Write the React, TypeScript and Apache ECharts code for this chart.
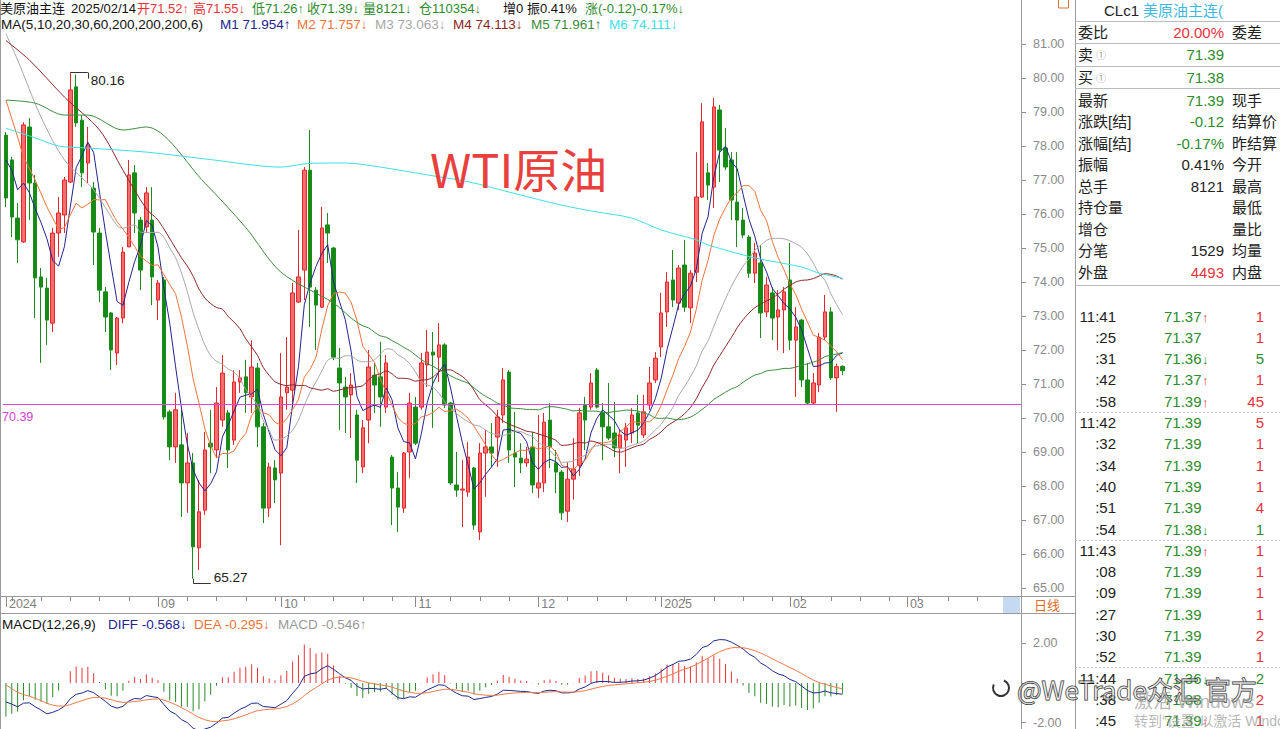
import React, { useEffect, useRef } from "react";
import * as echarts from "echarts";

// ---------- candle data ----------
const opens = [
  78.32, 77.59, 75.88, 75.18, 78.56, 76.91, 74.15, 73.82, 72.79, 75.44,
  75.97, 76.94, 79.74, 78.76, 77.5, 76.76, 75.44, 73.71, 73.09, 71.91,
  72.94, 75.03, 77.21, 75.82, 75.62, 75.82, 73.47, 74.06, 70.18, 69.15,
  69.21, 68.09, 68.68, 66.18, 67.29, 69.26, 69.06, 69.94, 70.15, 69.35,
  71.06, 71.21, 70.62, 71.47, 69.74, 67.35, 68.53, 68.38, 70.74, 70.82,
  73.41, 74.35, 77.29, 73.76, 73.26, 75.68, 75.0, 71.47, 70.91, 70.68,
  70.09, 68.56, 69.94, 71.26, 71.21, 70.32, 68.85, 67.94, 67.35, 69.0,
  70.32, 70.32, 71.56, 71.94, 71.79, 72.15, 70.44, 68.03, 67.88, 67.82,
  68.53, 66.65, 68.97, 69.15, 69.44, 70.09, 71.35, 68.97, 68.82, 68.68,
  69.15, 67.94, 68.09, 69.94, 68.68, 68.41, 67.26, 68.2, 68.6, 70.38,
  70.32, 71.41, 70.15, 69.74, 69.56, 69.12, 69.35, 69.56, 70.15, 69.5,
  70.38, 71.12, 72.09, 73.12, 74.06, 73.38, 74.5, 73.24, 74.29, 76.5,
  77.21, 76.79, 79.06, 77.94, 77.59, 76.35, 75.82, 75.32, 74.26, 74.56,
  73.12, 73.68, 72.97, 73.18, 74.06, 72.29, 72.88, 71.12, 70.44, 70.97,
  72.38, 73.12, 71.18, 71.52,
];
const highs = [
  78.41, 77.68, 76.32, 78.7, 78.82, 77.15, 74.41, 74.12, 75.59, 76.5,
  77.09, 80.16, 80.1, 78.91, 78.56, 76.94, 75.59, 73.85, 73.12, 72.97,
  75.03, 77.59, 77.44, 75.91, 76.79, 76.79, 74.06, 74.15, 70.24, 70.74,
  70.24, 69.56, 68.97, 68.18, 69.59, 70.24, 70.91, 71.85, 70.24, 71.41,
  71.41, 71.71, 72.29, 71.62, 69.85, 68.68, 68.76, 71.91, 72.38, 73.97,
  75.53, 77.38, 78.47, 73.85, 76.21, 76.03, 75.03, 72.06, 71.21, 71.32,
  70.24, 69.94, 72.0, 71.62, 72.24, 71.85, 68.91, 68.41, 69.0, 70.74,
  70.62, 71.91, 72.59, 72.53, 72.79, 72.2, 70.47, 69.0, 68.76, 69.29,
  68.56, 69.26, 69.65, 69.85, 70.24, 71.47, 71.41, 70.18, 69.26, 69.15,
  69.59, 70.09, 70.15, 70.44, 69.06, 68.47, 68.7, 69.4, 70.3, 70.62,
  71.32, 71.47, 70.44, 71.03, 70.47, 69.65, 69.85, 70.29, 70.68, 70.68,
  71.5, 71.94, 73.68, 74.29, 74.94, 74.5, 75.24, 74.35, 77.82, 79.26,
  77.5, 79.41, 79.21, 78.53, 77.82, 77.82, 76.18, 75.38, 75.15, 75.09,
  74.15, 73.85, 73.76, 73.85, 75.15, 73.26, 72.92, 71.62, 71.32, 72.5,
  73.62, 73.26, 71.6, 71.55,
];
const lows = [
  76.2, 75.32, 74.56, 75.15, 75.82, 72.94, 71.62, 72.15, 72.53, 74.74,
  75.44, 76.91, 78.56, 76.79, 76.91, 74.5, 73.41, 72.53, 71.41, 71.56,
  72.79, 75.03, 75.44, 73.76, 75.44, 73.32, 72.88, 69.95, 68.76, 68.68,
  67.09, 67.21, 65.27, 65.53, 67.15, 68.38, 68.82, 69.74, 68.53, 69.21,
  70.74, 70.15, 70.15, 69.15, 66.91, 67.09, 67.5, 66.26, 70.24, 70.32,
  73.38, 73.47, 72.68, 72.0, 73.24, 74.56, 71.7, 69.65, 69.56, 69.41,
  68.09, 68.38, 69.26, 70.15, 69.74, 70.15, 66.85, 66.65, 67.21, 68.24,
  69.2, 70.24, 70.91, 69.71, 71.06, 70.29, 68.03, 67.68, 66.79, 67.68,
  66.71, 66.41, 67.68, 68.56, 68.56, 69.85, 68.68, 67.97, 68.38, 68.56,
  67.79, 67.65, 67.82, 68.53, 67.79, 67.0, 66.94, 67.6, 68.3, 69.06,
  70.24, 70.28, 68.76, 69.35, 68.85, 68.38, 68.56, 69.26, 69.26, 69.41,
  70.24, 71.03, 71.79, 72.68, 73.26, 73.18, 73.12, 72.79, 74.0, 76.47,
  76.41, 76.18, 76.94, 77.29, 75.82, 75.03, 75.29, 74.12, 73.97, 72.35,
  72.97, 72.29, 72.0, 71.91, 72.0, 70.62, 70.91, 70.38, 70.38, 70.76,
  72.29, 71.12, 70.18, 71.26,
];
const closes = [
  76.47, 75.91, 75.24, 78.62, 76.91, 74.12, 73.85, 72.88, 75.44, 76.03,
  77.0, 79.65, 78.68, 77.21, 78.03, 75.47, 73.76, 72.97, 72.0, 72.94,
  74.88, 77.15, 76.03, 74.35, 76.62, 74.15, 73.97, 70.03, 69.15, 70.24,
  68.09, 68.68, 66.21, 67.24, 69.06, 69.15, 70.44, 71.32, 69.06, 71.06,
  71.18, 70.74, 71.5, 69.74, 67.35, 68.56, 68.18, 70.62, 70.91, 73.68,
  74.15, 77.29, 73.85, 73.32, 75.59, 75.44, 71.79, 71.03, 70.62, 70.97,
  68.76, 69.71, 71.5, 70.97, 70.62, 71.62, 67.94, 67.38, 68.97, 70.44,
  69.26, 71.62, 71.94, 71.85, 72.15, 70.38, 68.09, 67.88, 67.91, 68.85,
  66.85, 68.97, 69.15, 68.97, 70.03, 71.12, 69.06, 68.85, 68.68, 68.79,
  68.03, 68.09, 69.88, 69.15, 68.41, 67.21, 68.2, 68.5, 70.15, 69.94,
  71.03, 70.32, 69.74, 69.41, 69.12, 69.5, 69.71, 70.09, 69.79, 70.18,
  71.03, 71.76, 73.09, 74.0, 73.47, 74.41, 73.26, 74.26, 76.5, 78.71,
  76.85, 79.15, 77.88, 77.38, 76.41, 75.82, 75.38, 74.26, 74.85, 73.09,
  73.91, 72.94, 73.18, 73.71, 72.29, 72.68, 71.12, 70.44, 71.03, 72.38,
  73.12, 71.18, 71.51, 71.39,
];

// month tick labels: [category index, label]
const monthLabels: [number, string][] = [
  [0, "2024"], [26, "09"], [47, "10"], [70, "11"], [91, "12"], [112, "2025"], [134, "02"], [154, "03"],
];
const slotCount = 174;

const ma5Head: [number, number][] = [[0, 77.59], [1, 77.29], [2, 76.71], [3, 76.91]];
const ma10Head: [number, number][] = [[0, 79.35], [2, 78.26], [3, 77.68], [5, 77.0], [7, 76.21]];
const ma20Head: [number, number][] = [[0, 81.3], [2, 80.53], [6, 78.85], [10, 77.59], [15, 76.71]];
const ma30Head: [number, number][] = [[0, 81.1], [4, 80.53], [10, 79.44], [16, 78.47], [20, 77.29], [24, 76.15], [26, 75.82]];
const ma60Head: [number, number][] = [[0, 79.35], [5, 79.26], [10, 78.91], [14, 78.91], [20, 78.47], [24, 78.56], [34, 76.91], [41, 75.6], [47, 74.29], [56, 73.38]];
const ma200Points: [number, number][] = [
  [0, 78.52], [5, 78.24], [9, 78.0], [14, 77.94], [24, 77.82], [35, 77.6], [47, 77.38], [52, 77.49],
  [58, 77.5], [64, 77.38], [72, 77.15], [79, 76.95], [87, 76.6], [95, 76.26], [101, 76.06], [107, 75.88],
  [112, 75.53], [118, 75.24], [120, 75.09], [128, 74.71], [136, 74.44], [139, 74.26], [143, 74.11],
];
// MACD state before the first visible candle
const macdSeed = [78.55, 79.4, 0.11]; // ema12, ema26, dea

const pinkLevel = 70.39;
const lastPrice = 71.39;
const highMark = [11, 80.16];
const lowMark = [32, 65.27];

const quoteTop: [string, string, string, string][] = [
  ["委比", "20.00%", "#e8323a", "委差"],
  ["卖", "71.39", "#2e8b2e", ""],
  ["买", "71.38", "#2e8b2e", ""],
];
const quoteRows: [string, string, string, string][] = [
  ["最新", "71.39", "#2e8b2e", "现手"],
  ["涨跌[结]", "-0.12", "#2e8b2e", "结算价"],
  ["涨幅[结]", "-0.17%", "#2e8b2e", "昨结算"],
  ["振幅", "0.41%", "#222", "今开"],
  ["总手", "8121", "#222", "最高"],
  ["持仓量", "", "#222", "最低"],
  ["增仓", "", "#222", "量比"],
  ["分笔", "1529", "#222", "均量"],
  ["外盘", "4493", "#e8323a", "内盘"],
];
// time, price, arrow, volume, volume side
const trades: [string, string, string, string, string][] = [
  ["11:41", "71.37", "↑", "1", "r"], [":25", "71.37", "", "1", "r"], [":31", "71.36", "↓", "5", "g"],
  [":42", "71.37", "↑", "1", "r"], [":58", "71.39", "↑", "45", "r"],
  ["11:42", "71.39", "", "5", "r"], [":32", "71.39", "", "1", "r"], [":34", "71.39", "", "1", "r"],
  [":40", "71.39", "", "1", "r"], [":51", "71.39", "", "4", "r"], [":54", "71.38", "↓", "1", "g"],
  ["11:43", "71.39", "↑", "1", "r"], [":08", "71.39", "", "1", "r"], [":09", "71.39", "", "1", "r"],
  [":27", "71.39", "", "1", "r"], [":30", "71.39", "", "2", "r"], [":52", "71.39", "", "1", "r"],
  ["11:44", "71.36", "↓", "2", "g"], [":38", "71.38", "", "2", "r"], [":45", "71.39", "↑", "1", "r"],
];
const groupBreaks = [5, 11, 17];

const LAT = "'Liberation Sans', Arial, 'Noto Sans CJK SC', sans-serif";
const RED = "#e8323a";
const GRN = "#2e8b2e";
const maColors = ["#23238e", "#f0743c", "#a8a8a8", "#8c2626", "#3c8c3c", "#3ee0e6"];

function movingAverage(period: number, head: [number, number][]) {
  const pts: [number, number][] = [...head];
  for (let i = period - 1; i < closes.length; i++) {
    let s = 0;
    for (let k = i - period + 1; k <= i; k++) s += closes[k];
    pts.push([i, +(s / period).toFixed(3)]);
  }
  return pts;
}

function macdSeries() {
  let e12 = macdSeed[0], e26 = macdSeed[1], dea = macdSeed[2];
  const diffs: number[] = [], deas: number[] = [], hist: number[] = [];
  closes.forEach((c) => {
    e12 = (2 * c + 11 * e12) / 13;
    e26 = (2 * c + 25 * e26) / 27;
    const d = e12 - e26;
    dea = (2 * d + 8 * dea) / 10;
    diffs.push(+d.toFixed(3));
    deas.push(+dea.toFixed(3));
    hist.push(+(2 * (d - dea)).toFixed(3));
  });
  return { diffs, deas, hist };
}

function txt(x: number, y: number, text: string, fill: string, size = 12, align = "left", extra: any = {}) {
  return {
    type: "text", x, y, z: 10,
    style: { text, fill, font: `${size}px ${LAT}`, align, textAlign: align, verticalAlign: "middle", textVerticalAlign: "middle", ...extra },
  };
}
function ln(x1: number, y1: number, x2: number, y2: number, stroke = "#9a9a9a", dash?: number[]) {
  return { type: "line", z: 5, shape: { x1, y1, x2, y2 }, style: { stroke, lineWidth: 1, lineDash: dash } };
}

export default function App() {
  const ref = useRef<HTMLDivElement>(null);
  useEffect(() => {
    if (!ref.current) return;
    const chart = echarts.init(ref.current, undefined, { renderer: "svg" });
    const cats = Array.from({ length: slotCount }, (_, i) => String(i));
    const labelMap: Record<number, string> = {};
    monthLabels.forEach(([i, l]) => (labelMap[i] = l));
    const candles = closes.map((c, i) => [opens[i], c, lows[i], highs[i]]);
    const mas = [
      movingAverage(5, ma5Head), movingAverage(10, ma10Head), movingAverage(20, ma20Head),
      movingAverage(30, ma30Head), movingAverage(60, ma60Head), ma200Points,
    ];
    const { diffs, deas, hist } = macdSeries();

    const g: any[] = [];
    // frame lines
    g.push(ln(0.5, 0, 0.5, 729));
    g.push(ln(1021.5, 0, 1021.5, 729));
    g.push(ln(1075.5, 0, 1075.5, 729));
    g.push(ln(0, 596.5, 1075, 596.5));
    g.push(ln(0, 613.5, 1075, 613.5));
    g.push({ type: "rect", z: 4, shape: { x: 1003, y: 597, width: 17, height: 16 }, style: { fill: "#c5daf2" } });
    g.push({ type: "rect", z: 4, shape: { x: 1058.5, y: -1, width: 10, height: 9 }, style: { fill: "none", stroke: "#e07030" } });
    g.push(txt(1034, 605, "日线", "#e06a2a", 13));

    // header line 1
    const h1: [number, string, string][] = [
      [0, "美原油主连", "#111"], [71, "2025/02/14", "#111"], [137, "开71.52↑", RED], [193, "高71.55↓", RED],
      [252, "低71.26↑", GRN], [307, "收71.39↓", GRN], [363, "量8121↓", GRN], [419, "仓110354↓", GRN],
      [503, "增0", "#111"], [527, "振0.41%", "#111"], [585, "涨(-0.12)-0.17%↓", GRN],
    ];
    h1.forEach(([x, t, c]) => g.push(txt(x, 8, t, c, 13)));
    const h2: [number, string, string][] = [
      [1, "MA(5,10,20,30,60,200,200,200,6)", "#111"], [220, "M1 71.954↑", maColors[0]], [297, "M2 71.757↓", maColors[1]],
      [375, "M3 73.063↓", maColors[2]], [453, "M4 74.113↓", maColors[3]], [531, "M5 71.961↑", maColors[4]], [609, "M6 74.111↓", maColors[5]],
    ];
    h2.forEach(([x, t, c]) => g.push(txt(x, 24, t, c, 13.5)));
    // MACD title
    const h3: [number, string, string][] = [
      [2, "MACD(12,26,9)", "#111"], [108, "DIFF -0.568↓", maColors[0]], [194, "DEA -0.295↓", maColors[1]], [278, "MACD -0.546↑", "#9a9a9a"],
    ];
    h3.forEach(([x, t, c]) => g.push(txt(x, 624, t, c, 13.5)));

    g.push(txt(2, 417, pinkLevel.toFixed(2), "#d63fd6", 12.5));
    g.push(txt(430, 167, "WTI原油", "#e8403c", 47, "left", { font: `47px 'Noto Sans CJK SC', sans-serif` }));

    // right panel
    g.push(txt(1104, 10, "CLc1", "#222", 15));
    g.push(txt(1143, 10, "美原油主连(", "#3fb8e0", 15));
    [21.5, 43.5, 66.5, 88.5, 285.5].forEach((y) => g.push(ln(1075, y, 1280, y, "#bbbbbb")));
    quoteTop.forEach(([a, v, c, b], i) => {
      const y = [32, 54, 77][i];
      g.push(txt(1078, y, a, "#222", 15));
      if (i > 0) g.push(txt(1096, y + 1, "①", "#999", 10));
      g.push(txt(1224, y, v, c, 15, "right"));
      if (b) g.push(txt(1232, y, b, "#222", 15));
    });
    quoteRows.forEach(([a, v, c, b], i) => {
      const y = 100 + i * 21.5;
      g.push(txt(1078, y, a, "#222", 15));
      if (v) g.push(txt(1224, y, v, c, 15, "right"));
      g.push(txt(1232, y, b, "#222", 15));
    });
    trades.forEach(([t, p, arr, v, side], i) => {
      const y = 316 + i * 21.3;
      g.push(txt(1116, y, t, "#222", 15, "right"));
      g.push(txt(1164, y, p, GRN, 15));
      if (arr) g.push(txt(1202, y + 1, arr, arr === "↑" ? RED : GRN, 13));
      g.push(txt(1264, y, v, side === "r" ? RED : GRN, 15, "right"));
    });
    groupBreaks.forEach((k) => {
      const y = Math.round(316 + (k - 0.5) * 21.3) + 0.5;
      g.push(ln(1075, y, 1280, y, "#bbbbbb", [2, 2]));
    });

    // overlays (watermarks)
    g.push({ type: "arc", z: 20, shape: { cx: 1001, cy: 688, r: 8, startAngle: -1.2, endAngle: 3.6 }, style: { stroke: "#333", lineWidth: 2, fill: "none" } });
    g.push({ type: "text", x: 1017, y: 688, z: 20, style: { text: "@WeTrade众汇 官方", font: `26px 'Noto Sans CJK SC', sans-serif`, fill: "rgba(255,255,255,0.5)", stroke: "#222", lineWidth: 1, verticalAlign: "middle", textVerticalAlign: "middle" } });
    g.push({ type: "text", x: 1134, y: 701, z: 21, style: { text: "激活 Windows", font: `19px ${LAT}`, fill: "rgba(150,150,150,0.7)", verticalAlign: "middle", textVerticalAlign: "middle" } });
    g.push({ type: "text", x: 1134, y: 721, z: 21, style: { text: "转到“设置”以激活 Windows。", font: `14px ${LAT}`, fill: "rgba(150,150,150,0.7)", verticalAlign: "middle", textVerticalAlign: "middle" } });

    const blackLine = { color: "#333", width: 1, type: "solid" };
    const option: any = {
      animation: false,
      backgroundColor: "#ffffff",
      grid: [
        { left: 3, right: 259, top: 44, height: 544 },
        { left: 3, right: 259, top: 643, height: 84 },
      ],
      xAxis: [
        {
          type: "category", gridIndex: 0, data: cats, position: "bottom", offset: 8,
          axisLine: { show: false },
          axisTick: { show: true, alignWithLabel: true, length: 11, interval: (i: number) => labelMap[i] !== undefined, lineStyle: { color: "#8a8a8a" } },
          axisLabel: {
            show: true, interval: (i: number) => labelMap[i] !== undefined, formatter: (_v: string, i: number) => labelMap[i] || "",
            align: "left", padding: [0, 0, 0, 3], margin: 2, color: "#808080", fontSize: 12.5, fontFamily: LAT,
          },
          splitLine: { show: false },
        },
        {
          type: "category", gridIndex: 0, data: cats, position: "bottom", offset: 8,
          axisLine: { show: false },
          axisTick: { show: true, alignWithLabel: true, length: 5, interval: (i: number) => i % 5 === 1, lineStyle: { color: "#8a8a8a" } },
          axisLabel: { show: false }, splitLine: { show: false },
        },
        { type: "category", gridIndex: 1, data: cats, axisLine: { show: false }, axisTick: { show: false }, axisLabel: { show: false }, splitLine: { show: false } },
      ],
      yAxis: [
        {
          type: "value", gridIndex: 0, position: "right", min: 65, max: 81, interval: 1, scale: true,
          axisLine: { show: false }, axisTick: { show: true, length: 5, lineStyle: { color: "#8a8a8a" } },
          axisLabel: { color: "#8a8a8a", fontSize: 12.5, margin: 12, fontFamily: LAT, formatter: (v: number) => v.toFixed(2) },
          splitLine: { show: false },
        },
        {
          type: "value", gridIndex: 1, position: "right", min: -2, max: 2, interval: 2,
          axisLine: { show: false }, axisTick: { show: true, length: 5, lineStyle: { color: "#8a8a8a" } },
          axisLabel: { color: "#8a8a8a", fontSize: 12.5, margin: 12, fontFamily: LAT, formatter: (v: number) => (v === 0 ? "" : v.toFixed(2)) },
          splitLine: { show: false },
        },
      ],
      graphic: g,
      series: [
        {
          type: "candlestick", xAxisIndex: 0, yAxisIndex: 0, data: candles, barWidth: 4, clip: false,
          itemStyle: { color: "#f36e6e", color0: "#158a15", borderColor: "#e6262b", borderColor0: "#1a8c1a", borderWidth: 1 },
          markLine: {
            silent: true, symbol: ["none", "none"], label: { show: false }, animation: false,
            data: [
              { yAxis: pinkLevel, lineStyle: { color: "#e045e0", width: 1, type: "solid" } },
              {
                yAxis: lastPrice, lineStyle: { opacity: 0 },
                label: {
                  show: true, position: "end", distance: 1, formatter: lastPrice.toFixed(2), color: "#e02020", fontSize: 13, fontFamily: LAT,
                  backgroundColor: "rgba(196,226,196,0.75)", borderRadius: 8, padding: [0, 2, 0, 16],
                },
              },
              [{ coord: [highMark[0], highMark[1]], lineStyle: blackLine }, { coord: [highMark[0] + 3, highMark[1]] }],
              [{ coord: [highMark[0] + 3, highMark[1]], lineStyle: blackLine }, { coord: [highMark[0] + 3, highMark[1] - 0.18] }],
              [{ coord: [lowMark[0], lowMark[1]], lineStyle: blackLine }, { coord: [lowMark[0], lowMark[1] - 0.12] }],
              [{ coord: [lowMark[0], lowMark[1] - 0.12], lineStyle: blackLine }, { coord: [lowMark[0] + 3, lowMark[1] - 0.12] }],
            ],
          },
          markPoint: {
            silent: true, symbol: "rect", symbolSize: 0, animation: false,
            label: { show: true, position: "right", distance: 3, color: "#222", fontSize: 13.5, fontFamily: LAT },
            data: [
              { coord: [highMark[0] + 3, highMark[1] - 0.22], label: { formatter: highMark[1].toFixed(2) } },
              { coord: [lowMark[0] + 3, lowMark[1] + 0.03], label: { formatter: lowMark[1].toFixed(2) } },
            ],
          },
        },
        ...mas.map((pts, k) => ({
          type: "line", xAxisIndex: 0, yAxisIndex: 0, data: pts, showSymbol: false, symbol: "none", connectNulls: true,
          smooth: k >= 2 ? 0.3 : false, clip: false, silent: true,
          lineStyle: { color: maColors[k], width: 1 },
        })),
        {
          type: "bar", xAxisIndex: 2, yAxisIndex: 1, barWidth: 1, silent: true,
          data: hist.map((v) => ({ value: v, itemStyle: { color: v >= 0 ? "#e8343a" : "#2a8a2a" } })),
        },
        { type: "line", xAxisIndex: 2, yAxisIndex: 1, data: diffs, showSymbol: false, symbol: "none", clip: false, silent: true, lineStyle: { color: "#1e2a8c", width: 1 } },
        { type: "line", xAxisIndex: 2, yAxisIndex: 1, data: deas, showSymbol: false, symbol: "none", clip: false, silent: true, lineStyle: { color: "#f07a4a", width: 1 } },
      ],
    };
    chart.setOption(option);
    return () => chart.dispose();
  }, []);
  return <div ref={ref} style={{ position: "fixed", left: 0, top: 0, width: 1280, height: 729, background: "#fff" }} />;
}
